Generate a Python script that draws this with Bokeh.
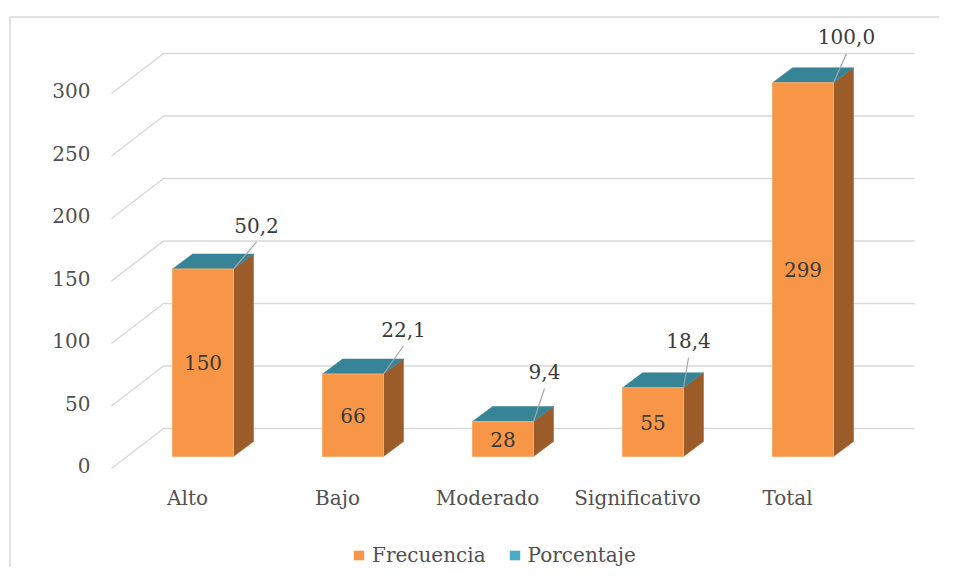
from bokeh.plotting import figure
from bokeh.models import Range1d, Legend, LegendItem
from bokeh.core.properties import value
from bokeh.embed import file_html
from bokeh.resources import INLINE

# ---------------- data ----------------
categories = ["Alto", "Bajo", "Moderado", "Significativo", "Total"]
frecuencia = [150, 66, 28, 55, 299]
porcentaje = [50.2, 22.1, 9.4, 18.4, 100.0]
y_ticks = [0, 50, 100, 150, 200, 250, 300]

# ---------------- layout tuning (pixels) ----------------
W, H = 939, 567
ORIGIN_X, ORIGIN_Y = 0, 0   # screenshot position of the canvas top-left
PX_CAT = 150.0       # pixels per category
PX_VAL = 1.25        # pixels per value unit
X0_PAGE = 202.5      # page x of first category centre
Y0_PAGE = 456.0      # page y of value 0 on the bar front face
BAR_W_PX = 61
DEPTH_X_PX, DEPTH_Y_PX = 20, 15
pct_dx_px = [23, 20, 11, 5, 13]
pct_rise_px = [27, 28, 33, 30, 29]

FONT = "DejaVu Serif"
FS = "20px"
AXIS_COL = "#505050"
LABEL_COL = "#3A3A3A"
GRID_COL = "#D9D9D9"
FRONT = "#F79646"
SIDE = "#9C5C29"
TOP = "#378497"
LEG_TEAL = "#4BACC6"


def X(px):
    return (px - X0_PAGE) / PX_CAT


def Y(py):
    return (Y0_PAGE - py) / PX_VAL


def DX(px):
    return px / PX_CAT


def DY(px):
    return px / PX_VAL


p = figure(width=W, height=H,
           x_range=Range1d(X(ORIGIN_X), X(ORIGIN_X + W)),
           y_range=Range1d(Y(ORIGIN_Y + H), Y(ORIGIN_Y)),
           output_backend="svg", toolbar_location=None, min_border=0,
           x_axis_location=None, y_axis_location=None)
p.grid.visible = False
p.outline_line_color = None
p.background_fill_color = "white"
p.border_fill_color = "white"

# chart border (partially visible)
p.line(x=[X(9.5), X(9.5), X(990)], y=[Y(700), Y(16.5), Y(16.5)],
       line_color=GRID_COL, line_width=1.5)

# 3D gridlines: front-wall diagonal + back wall
gx, gy = [], []
for v in y_ticks:
    gx.append([X(111), X(163), X(914)])
    gy.append([Y(468) + v, Y(428) + v, Y(428) + v])
p.multi_line(xs=gx, ys=gy, line_color=GRID_COL, line_width=1.5)

# bars
idx = list(range(len(categories)))
half = DX(BAR_W_PX) / 2
lefts = [i - half for i in idx]
rights = [i + half for i in idx]
ddx, ddy = DX(DEPTH_X_PX), DY(DEPTH_Y_PX)

side_xs = [[r, r + ddx, r + ddx, r] for r in rights]
side_ys = [[0, ddy, v + ddy, v] for v in frecuencia]
p.patches(xs=side_xs, ys=side_ys, fill_color=SIDE, line_color=SIDE, line_width=0.5)

top_xs = [[l, r, r + ddx, l + ddx] for l, r in zip(lefts, rights)]
top_ys = [[v, v, v + ddy, v + ddy] for v in frecuencia]
p.patches(xs=top_xs, ys=top_ys, fill_color=TOP, line_color=TOP, line_width=0.5)

p.quad(left=lefts, right=rights, bottom=0, top=frecuencia,
       fill_color=FRONT, line_color="#F9AC6E", line_width=1)

# values inside bars
p.text(x=idx, y=[v / 2 for v in frecuencia], text=[str(v) for v in frecuencia],
       text_align="center", text_baseline="middle",
       text_font=value(FONT), text_font_size=FS, text_color=LABEL_COL)

# percentage labels with leader lines
lx, ly, tx, ty = [], [], [], []
for r, v, dx, rise in zip(rights, frecuencia, pct_dx_px, pct_rise_px):
    ex, ey = r + DX(dx), v + DY(rise)
    lx.append([r, ex])
    ly.append([v, ey])
    tx.append(ex)
    ty.append(ey + DY(17))
p.multi_line(xs=lx, ys=ly, line_color="#A6A6A6", line_width=1.2)
p.text(x=tx, y=ty, text=[f"{v:.1f}".replace(".", ",") for v in porcentaje],
       text_align="center", text_baseline="middle",
       text_font=value(FONT), text_font_size=FS, text_color=LABEL_COL)

# y tick labels
p.text(x=[X(90)] * len(y_ticks), y=[v + Y(465) for v in y_ticks],
       text=[str(v) for v in y_ticks], text_align="right", text_baseline="middle",
       text_font=value(FONT), text_font_size=FS, text_color=AXIS_COL)

# category labels
p.text(x=[i + DX(-15.5) for i in idx], y=[Y(497)] * len(idx), text=categories,
       text_align="center", text_baseline="middle",
       text_font=value(FONT), text_font_size=FS, text_color=AXIS_COL)

# legend (renderers sit outside the visible range; only their legend glyphs show)
far = X(-3000)
r_f = p.quad(left=[far], right=[far], bottom=[0], top=[1],
             fill_color=FRONT, line_color=None)
r_p = p.quad(left=[far], right=[far], bottom=[0], top=[1],
             fill_color=LEG_TEAL, line_color=None)
legend = Legend(items=[LegendItem(label="Frecuencia", renderers=[r_f]),
                       LegendItem(label="Porcentaje", renderers=[r_p])],
                location=(352 - ORIGIN_X, 0), orientation="horizontal",
                glyph_width=13, glyph_height=12, label_standoff=7, spacing=22,
                padding=0, margin=0, border_line_color=None, background_fill_alpha=0,
                label_text_font=FONT, label_text_font_size=FS, label_text_color=AXIS_COL,
                label_height=12)
p.add_layout(legend)

open("out.html", "w").write(file_html(p, INLINE))
